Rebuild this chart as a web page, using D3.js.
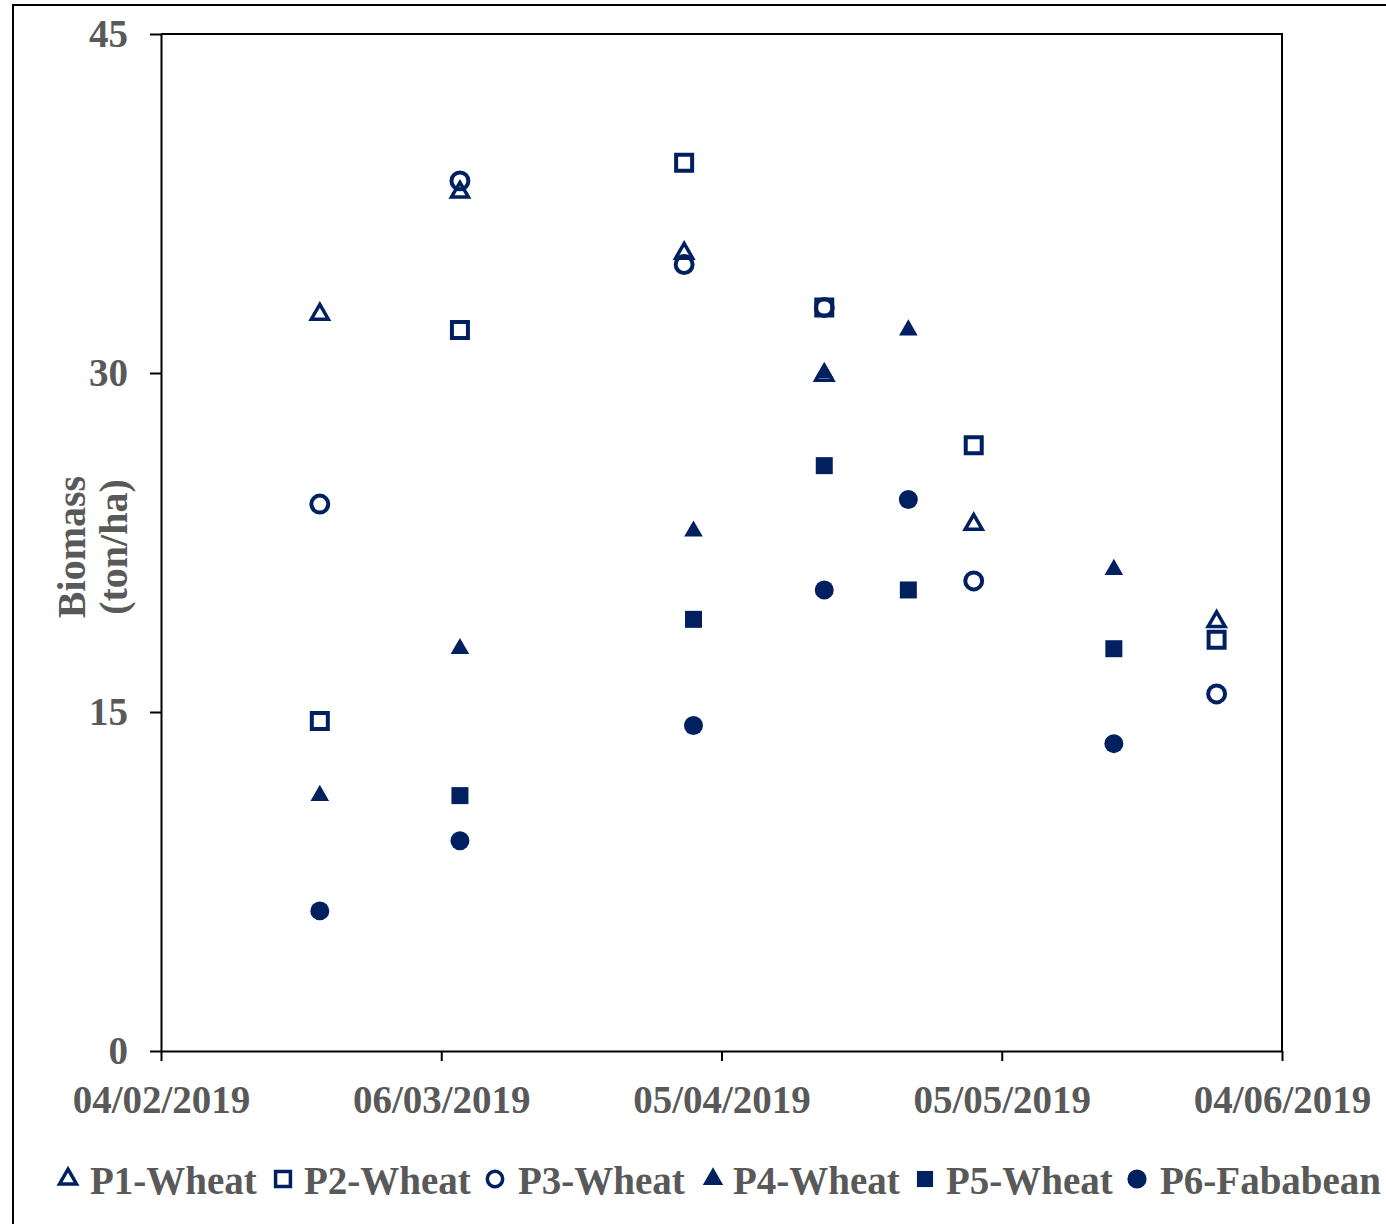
<!DOCTYPE html>
<html>
<head>
<meta charset="utf-8">
<script src="https://cdn.jsdelivr.net/npm/d3@7/dist/d3.min.js"></script>
<style>
  html, body { margin: 0; padding: 0; background: #ffffff; }
  svg { display: block; }
  text { font-family: "Liberation Serif", "Times New Roman", serif; font-weight: bold; fill: #595959; }
</style>
</head>
<body>
<script>
// Sampling dates (UTC)
const p1Dates = ["2019-02-21", "2019-03-08", "2019-04-01", "2019-04-16", "2019-05-02", "2019-05-28"];
const p2Dates = ["2019-02-21", "2019-03-08", "2019-04-01", "2019-04-16", "2019-05-02", "2019-05-28"];
const p3Dates = ["2019-02-21", "2019-03-08", "2019-04-01", "2019-04-16", "2019-05-02", "2019-05-28"];
const p4Dates = ["2019-02-21", "2019-03-08", "2019-04-02", "2019-04-16", "2019-04-25", "2019-05-17"];
const p5Dates = ["2019-03-08", "2019-04-02", "2019-04-16", "2019-04-25", "2019-05-17"];
const p6Dates = ["2019-02-21", "2019-03-08", "2019-04-02", "2019-04-16", "2019-04-25", "2019-05-17"];

// Biomass (ton/ha)
const p1Values = [32.6, 38.0, 35.3, 29.9, 23.3, 19.0];
const p2Values = [14.6, 31.9, 39.3, 32.9, 26.8, 18.2];
const p3Values = [24.2, 38.5, 34.8, 32.9, 20.8, 15.8];
const p4Values = [11.3, 17.8, 23.0, 30.0, 31.9, 21.3];
const p5Values = [11.3, 19.1, 25.9, 20.4, 17.8];
const p6Values = [6.2, 9.3, 14.4, 20.4, 24.4, 13.6];

const seriesNames = ["P1-Wheat", "P2-Wheat", "P3-Wheat", "P4-Wheat", "P5-Wheat", "P6-Fababean"];

const xTickDates = ["2019-02-04", "2019-03-06", "2019-04-05", "2019-05-05", "2019-06-04"];
const yTicks = [0, 15, 30, 45];

const navy = "#002060";
const W = 1386, H = 1224;
const plot = { left: 161, right: 1282, top: 34, bottom: 1051 };

const parse = d3.utcParse("%Y-%m-%d");
const fmt = d3.utcFormat("%d/%m/%Y");

const svg = d3.select("body").append("svg").attr("width", W).attr("height", H);

// outer frame
svg.append("rect").attr("x", 13).attr("y", 5).attr("width", 1420).attr("height", 1260)
  .attr("fill", "none").attr("stroke", "#000").attr("stroke-width", 2);

const x = d3.scaleUtc().domain([parse(xTickDates[0]), parse(xTickDates[4])]).range([plot.left, plot.right]);
const y = d3.scaleLinear().domain([0, 45]).range([plot.bottom, plot.top]);

// plot box top and right edges
svg.append("path")
  .attr("d", `M${plot.left},${plot.top}H${plot.right}V${plot.bottom}`)
  .attr("fill", "none").attr("stroke", "#000").attr("stroke-width", 2);

// y axis
const yAxis = svg.append("g").attr("transform", `translate(${plot.left},0)`)
  .call(d3.axisLeft(y).tickValues(yTicks).tickSizeOuter(0).tickSizeInner(11).tickPadding(22));
yAxis.select(".domain").attr("stroke-width", 2);
yAxis.selectAll(".tick line").attr("stroke-width", 2);
yAxis.selectAll(".tick text").attr("font-size", 39).attr("fill", "#595959")
  .attr("font-family", "Liberation Serif").attr("font-weight", "bold");

// x axis
const xAxis = svg.append("g").attr("transform", `translate(0,${plot.bottom})`)
  .call(d3.axisBottom(x).tickValues(xTickDates.map(parse)).tickFormat(fmt)
    .tickSizeOuter(0).tickSizeInner(10).tickPadding(24));
xAxis.select(".domain").attr("stroke-width", 2);
xAxis.selectAll(".tick line").attr("stroke-width", 2);
xAxis.selectAll(".tick text").attr("font-size", 39).attr("fill", "#595959")
  .attr("font-family", "Liberation Serif").attr("font-weight", "bold");

// y axis title
const yt = svg.append("text").attr("transform", "translate(85,547) rotate(-90)")
  .attr("text-anchor", "middle").attr("font-size", 40);
yt.append("tspan").attr("x", 0).attr("dy", 0).text("Biomass");
yt.append("tspan").attr("x", 0).attr("dy", 42).text("(ton/ha)");

// marker styles per series
const styles = [
  { type: d3.symbolTriangle, size: 125, fill: "none", sw: 3.5, lsize: 125 },
  { type: d3.symbolSquare, size: 256, fill: "none", sw: 4, lsize: 220 },
  { type: d3.symbolCircle, size: 225, fill: "none", sw: 4, lsize: 185 },
  { type: d3.symbolTriangle, size: 150, fill: navy, sw: 0, lsize: 180 },
  { type: d3.symbolSquare, size: 289, fill: navy, sw: 0, lsize: 260 },
  { type: d3.symbolCircle, size: 283, fill: navy, sw: 0, lsize: 290 }
];

const allDates = [p1Dates, p2Dates, p3Dates, p4Dates, p5Dates, p6Dates];
const allValues = [p1Values, p2Values, p3Values, p4Values, p5Values, p6Values];

allDates.forEach((dates, i) => {
  const st = styles[i];
  const pts = dates.map((d, j) => ({ date: parse(d), value: allValues[i][j] }));
  svg.append("g").selectAll("path").data(pts).join("path")
    .attr("d", d3.symbol().type(st.type).size(st.size))
    .attr("transform", d => `translate(${x(d.date)},${y(d.value)})`)
    .attr("fill", st.fill)
    .attr("stroke", st.sw ? navy : "none")
    .attr("stroke-width", st.sw)
    .attr("stroke-linejoin", "miter");
});

// legend
const legendMarkerX = [68, 283, 495, 713, 925, 1137];
const legendTextX = [90, 304, 518, 733, 946, 1160];
const lg = svg.append("g");
seriesNames.forEach((name, i) => {
  const st = styles[i];
  lg.append("path")
    .attr("d", d3.symbol().type(st.type).size(st.lsize))
    .attr("transform", `translate(${legendMarkerX[i]},1179)`)
    .attr("fill", st.fill)
    .attr("stroke", st.sw ? navy : "none")
    .attr("stroke-width", st.sw ? 3.5 : 0);
  lg.append("text").attr("x", legendTextX[i]).attr("y", 1194)
    .attr("font-size", 39).text(name);
});
</script>
</body>
</html>
